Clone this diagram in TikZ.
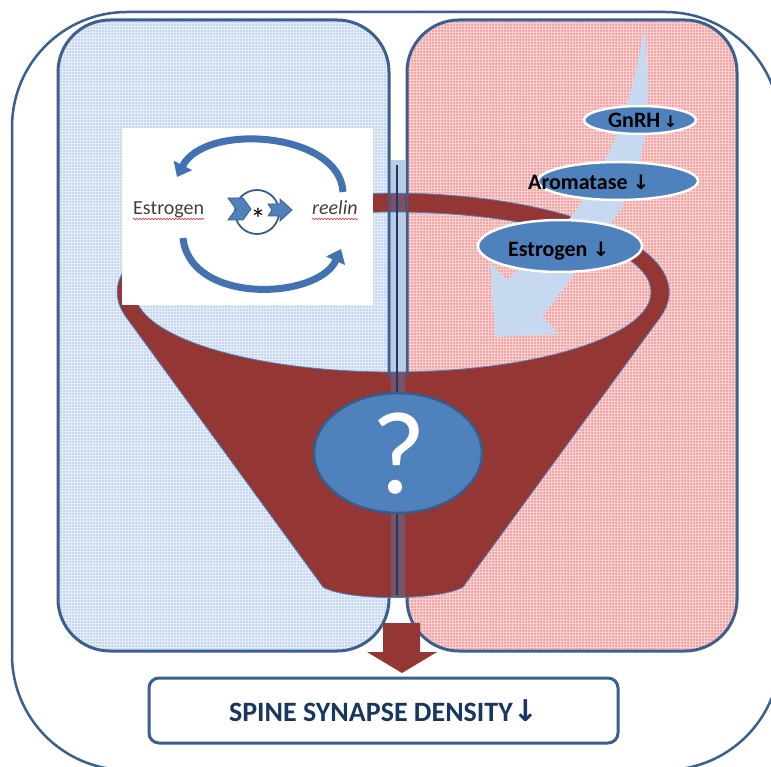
\documentclass[tikz,border=0pt]{standalone}
\usepackage{fontspec}
\setmainfont{Carlito}
\newfontfamily\arrowfont{DejaVu Sans}
\usetikzlibrary{patterns.meta, arrows.meta, decorations.pathmorphing}

\definecolor{frameblue}{HTML}{3B5F8E}
\definecolor{funnelred}{HTML}{943634}
\definecolor{accent}{HTML}{4F81BD}
\definecolor{accentdark}{HTML}{385D8A}
\definecolor{arcblue}{HTML}{4372B3}
\definecolor{paleblue}{HTML}{C6D9F1}
\definecolor{navy}{HTML}{1F3864}
\definecolor{boxtext}{HTML}{17375E}
\definecolor{leftbase}{HTML}{E9F0F9}
\definecolor{gridblue}{HTML}{C0D2EC}
\definecolor{rightbase}{HTML}{FAD8D8}
\definecolor{gridpink}{HTML}{F29A9A}
\definecolor{inkgray}{HTML}{404040}
\definecolor{squiggle}{HTML}{E03C3C}

% fine 3pt grid texture for the two panels
\tikzdeclarepattern{
  name=finegrid,
  type=uncolored,
  bounding box={(0pt,0pt) and (3pt,3pt)},
  tile size={(3pt,3pt)},
  code={
    \draw[line width=1.1pt] (0pt,1.5pt) -- (3pt,1.5pt) (1.5pt,0pt) -- (1.5pt,3pt);
  }
}

\tikzset{
  panel/.style={draw=frameblue, line width=3pt, rounded corners=52pt},
  hormone/.style={fill=accent, draw=white, line width=2.5pt},
  hormlabel/.style={font=\bfseries\fontsize{22}{22}\selectfont, text=black, inner sep=0pt},
  cyclelabel/.style={font=\fontsize{20}{20}\selectfont, text=inkgray, inner sep=0pt},
  wavy/.style={squiggle, line width=0.6pt, decorate,
    decoration={snake, amplitude=0.8pt, segment length=3pt}},
  cyclearc/.style={arcblue, line width=7pt, -{Triangle[length=13pt, width=20pt]}},
  chevron/.style={fill=accent, draw=accentdark, line width=0.8pt, line join=miter},
}

\newcommand{\dnarr}[1]{{\arrowfont\fontsize{#1}{#1}\selectfont ↓}}

\begin{document}
\begin{tikzpicture}[x=1pt, y=-1pt]
  \fill[white] (0,0) rectangle (771,767);
  \useasboundingbox (0,0) rectangle (771,767);

  % outer frame
  \draw[frameblue, line width=2.5pt, rounded corners=115pt] (12,12) rectangle (780,770);

  % two textured panels
  \draw[panel, preaction={fill=leftbase}, pattern={finegrid}, pattern color=gridblue]
    (58,20) rectangle (389,651);
  \draw[panel, preaction={fill=rightbase}, pattern={finegrid}, pattern color=gridpink]
    (407,20) rectangle (737,651);

  % funnel: elliptical rim with a hole, tapering to the bottom
  \fill[funnelred, draw=accent, line width=0.8pt, even odd rule]
    (126,317) arc[start angle=165.5, end angle=374.5, x radius=276, y radius=99]
    -- (463,587) .. controls (440,601) and (346,601) .. (323,587) -- cycle
    (393,292) ellipse [x radius=258, y radius=80];

  % broad pale arrow sweeping down through the hormones
  \fill[paleblue]
    plot[smooth, tension=0.6] coordinates {(645,25) (638,60) (628,100) (610,150) (570,218) (507,280)}
    -- (490,263) -- (495,337) -- (559,334) -- (542,317)
    -- plot[smooth, tension=0.6] coordinates {(542,317) (617,214) (640,160) (648,100) (647,60) (645,25)}
    -- cycle;

  % central divider column
  \fill[accent, opacity=0.4] (391,160) rectangle (405,598);
  \draw[frameblue, line width=2pt] (389,160) -- (389,378) (407,160) -- (407,378);
  \draw[navy, line width=2.5pt] (397,165) -- (397,595);

  % hormone cascade
  \draw[hormone] (640,120) ellipse [x radius=56, y radius=14];
  \node[hormlabel, anchor=base west] (gnrh) at (608,128) {GnRH\,\dnarr{16}};
  \draw[hormone] (618,181) ellipse [x radius=80, y radius=19];
  \node[hormlabel, anchor=base west] (arom) at (528,190) {Aromatase \dnarr{20}};
  \draw[hormone] (560,246) ellipse [x radius=82, y radius=26];
  \node[hormlabel, anchor=base west] (estr) at (508,257) {Estrogen \dnarr{20}};

  % estrogen / reelin feedback inset
  \fill[white] (122,128) rectangle (373,305);
  \node[cyclelabel, anchor=base west] (est) at (133,215) {Estrogen};
  \node[cyclelabel, anchor=base west] (reel) at (312,215) {\itshape reelin};
  \draw[wavy] ([yshift=-4pt]est.base west) -- ([yshift=-4pt]est.base east);
  \draw[wavy] ([yshift=-4pt]reel.base west) -- ([yshift=-4pt]reel.base east);
  \draw[cyclearc] (343,192) .. controls (340,132) and (205,122) .. (177,177);
  \draw[cyclearc] (183,238) .. controls (190,305) and (318,300) .. (341,249);
  \draw[accentdark, line width=1.8pt, fill=white] (257,212) circle [radius=22];
  \draw[chevron] (228,198) -- (243,198) -- (251,209) -- (243,220) -- (228,220) -- (236,209) -- cycle;
  \draw[chevron] (268,204) -- (280,204) -- (280,199) -- (292,210) -- (280,221) -- (280,216)
    -- (268,216) -- (272,210) -- cycle;
  \node[font=\fontsize{30}{30}\selectfont, inner sep=0pt] (star) at (258,219) {*};

  % open question at the funnel's throat
  \draw[fill=accent, draw=accentdark, line width=2.5pt] (398,453) ellipse [x radius=84, y radius=60];
  \node[text=white, font=\fontsize{118}{118}\selectfont, inner sep=0pt] (qmark) at (399,454) {?};

  % outcome
  \fill[funnelred] (383,623) -- (420,623) -- (420,652) -- (437,652) -- (402,673)
    -- (367,652) -- (383,652) -- cycle;
  \node[draw=frameblue, line width=3pt, rounded corners=10pt, fill=white,
        minimum width=469pt, minimum height=65pt, inner sep=0pt,
        text=boxtext, font=\bfseries\fontsize{28}{28}\selectfont] (density) at (383.5,710.5)
        {SPINE SYNAPSE DENSITY{\arrowfont\bfseries\fontsize{30}{30}\selectfont ↓}};
\end{tikzpicture}
\end{document}
